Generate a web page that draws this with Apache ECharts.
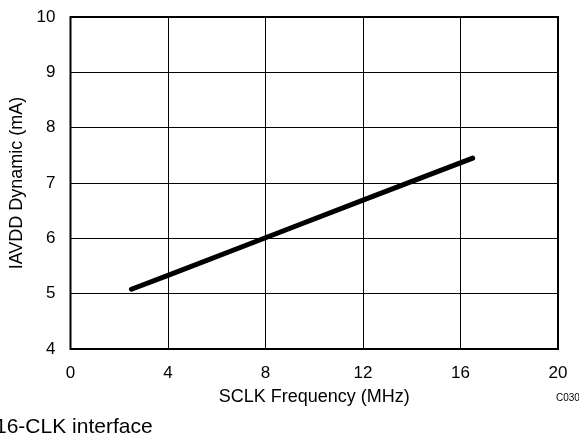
<!DOCTYPE html>
<html><head><meta charset="utf-8">
<script src="https://cdn.jsdelivr.net/npm/echarts@6/dist/echarts.min.js"></script>
<style>html,body{margin:0;padding:0;background:#fff}#c{width:579px;height:440px}</style>
</head><body><div id="c"></div>
<script>
const freqMHz = [2.5, 4, 8, 12, 16.5];
const iavddMA = [5.08, 5.33, 6.01, 6.69, 7.45];
const xTicks = [0, 4, 8, 12, 16, 20];
const yTicks = [4, 5, 6, 7, 8, 9, 10];
const xName = 'SCLK Frequency (MHz)';
const yName = 'IAVDD Dynamic (mA)';
const codeLabel = 'C030';
const footnote = '16-CLK interface';

const font = 'Liberation Sans, Arial, sans-serif';
const chart = echarts.init(document.getElementById('c'));
chart.setOption({
  animation: false,
  grid: {left: 70.5, right: 21, top: 17, bottom: 91, show: true, borderColor: '#000', borderWidth: 2,
         backgroundColor: 'transparent', containLabel: false, outerBoundsMode: 'none'},
  xAxis: {
    type: 'value', min: xTicks[0], max: xTicks[xTicks.length-1], interval: 4,
    name: xName, nameLocation: 'middle', nameGap: 39,
    nameTextStyle: {fontFamily: font, fontSize: 18, color: '#000'},
    axisLine: {show: false}, axisTick: {show: false},
    axisLabel: {fontFamily: font, fontSize: 17, color: '#000', margin: 16},
    splitLine: {show: true, lineStyle: {color: '#000', width: 1}}
  },
  yAxis: {
    type: 'value', min: yTicks[0], max: yTicks[yTicks.length-1], interval: 1,
    name: yName, nameLocation: 'middle', nameGap: 44,
    nameTextStyle: {fontFamily: font, fontSize: 18, color: '#000'},
    axisLine: {show: false}, axisTick: {show: false},
    axisLabel: {fontFamily: font, fontSize: 17, color: '#000', margin: 15},
    splitLine: {show: true, lineStyle: {color: '#000', width: 1}}
  },
  series: [{
    type: 'line', data: freqMHz.map((x, i) => [x, iavddMA[i]]),
    showSymbol: false, symbol: 'none',
    lineStyle: {color: '#000', width: 5, cap: 'round', join: 'round'}
  }],
  graphic: [
    {type: 'text', left: 556, top: 393, style: {text: codeLabel, fontFamily: font, fontSize: 10, fill: '#000'}},
    {type: 'text', left: -5, top: 417, style: {text: footnote, fontFamily: font, fontSize: 21, fill: '#000'}}
  ]
});
</script></body></html>
